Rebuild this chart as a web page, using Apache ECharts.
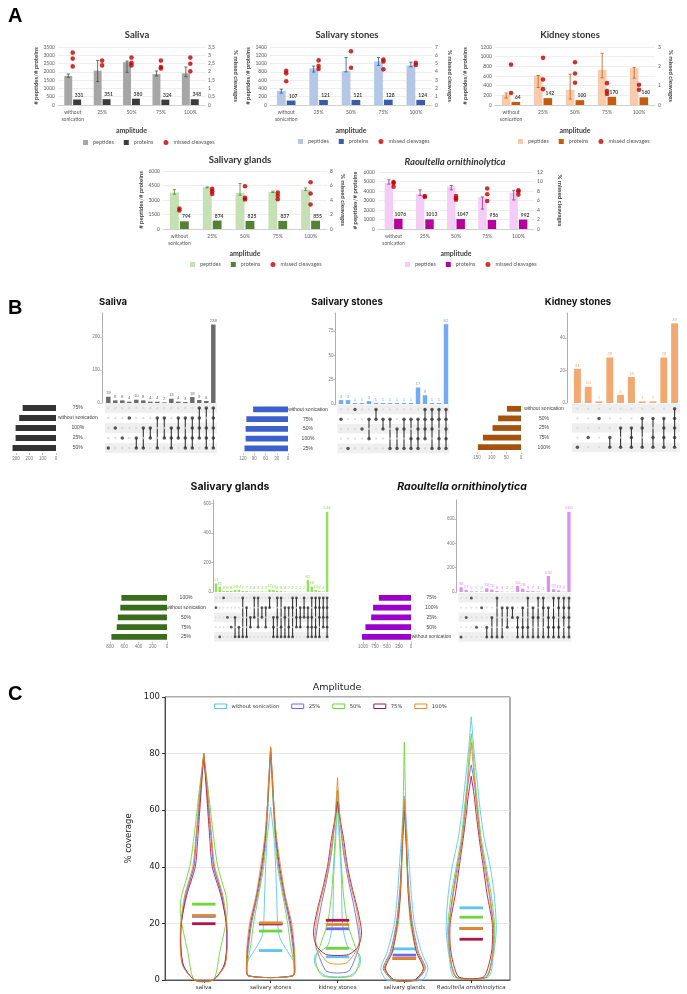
<!DOCTYPE html>
<html>
<head>
<meta charset="utf-8">
<title>Sonication amplitude</title>
<script src="https://cdn.jsdelivr.net/npm/echarts@6.0.0/dist/echarts.min.js"></script>
<style>
  html, body { margin: 0; padding: 0; background: #fff; }
  #main { width: 687px; height: 994px; }
</style>
</head>
<body>
<div id="main"></div>
<script>
// ---------- A: peptides / proteins / missed cleavages ----------
const amplitudes = ['without\nsonication', '25%', '50%', '75%', '100%'];

const salivaPeptides = [1750, 2070, 2585, 1870, 1910];
const salivaPeptideErr = [[1670, 1870], [1410, 2690], [1970, 2650], [1750, 2050], [1710, 2290]];
const salivaProteins = [331, 351, 380, 324, 348];
const salivaMissed = [[3.16, 2.8, 2.33], [2.68, 2.39], [2.86, 2.54, 2.39], [2.68, 2.29, 2.21], [2.86, 2.49, 2.03]];

const stonesPeptides = [342, 883, 819, 1050, 955];
const stonesPeptideErr = [[286, 382], [795, 939], [800, 1145], [955, 1145], [923, 1034]];
const stonesProteins = [107, 121, 121, 128, 124];
const stonesMissed = [[4.14, 3.82, 2.87], [5.38, 4.7, 4.34], [6.49, 4.5], [5.5, 5.26, 4.3], [5.1, 4.82]];

const kidneyPeptides = [213, 610, 315, 727, 761];
const kidneyPeptideErr = [[144, 247], [363, 610], [123, 638], [562, 1070], [555, 775]];
const kidneyProteins = [64, 142, 100, 170, 160];
const kidneyMissed = [[2.09, 0.62], [2.44, 1.32, 0.82], [2.21, 1.63, 1.15], [1.13, 0.72, 0.57], [1.05, 0.79]];

const glandsPeptides = [3771, 4320, 3737, 3840, 4080];
const glandsPeptideErr = [[3600, 4080], [4250, 4350], [3500, 4700], [3770, 3910], [3980, 4250]];
const glandsProteins = [794, 874, 825, 837, 855];
const glandsMissed = [[2.83, 2.56], [5.53, 5.21, 4.84], [5.89, 4.29, 4.06], [5.02, 4.57, 4.11], [6.44, 4.89, 3.38]];

const raoultellaPeptides = [4864, 3692, 4473, 3337, 3834];
const raoultellaPeptideErr = [[4722, 5183], [3515, 4118], [4118, 4580], [2095, 3373], [3053, 4047]];
const raoultellaProteins = [1076, 1013, 1047, 956, 992];
const raoultellaMissed = [[9.87, 9.66, 8.88], [6.96, 6.75], [6.96, 6.46, 6.18], [8.52, 7.32, 5.9], [8.17, 7.88, 7.24]];

// ---------- B: UpSet plots ----------
const salivaSets = ['75%', 'without sonication', '100%', '25%', '50%'];
const salivaSetSizes = [250, 276, 303, 303, 326];
const salivaCounts = [19, 8, 8, 4, 10, 8, 4, 4, 2, 13, 4, 3, 18, 9, 6, 238];
const salivaMembers = [[4], [2], [3], [1], [3, 4], [2, 4], [2, 3], [1, 4], [1, 3], [2, 3, 4], [1, 2, 3], [1, 3, 4], [1, 2, 3, 4], [0, 1, 2, 3], [0, 2, 3, 4], [0, 1, 2, 3, 4]];

const stonesSets = ['without sonication', '75%', '50%', '100%', '25%'];
const stonesSetSizes = [93, 111, 113, 113, 116];
const stonesCounts = [4, 4, 1, 1, 3, 1, 1, 1, 1, 1, 1, 17, 9, 1, 1, 82];
const stonesMembers = [[1], [4], [0], [2], [1, 3], [0, 1], [1, 2], [1, 4], [2, 4], [1, 2, 4], [1, 3, 4], [1, 2, 3, 4], [0, 1, 2, 3], [0, 1, 2, 4], [0, 1, 3, 4], [0, 1, 2, 3, 4]];

const kidneySets = ['without sonication', '50%', '25%', '75%', '100%'];
const kidneySetSizes = [48, 78, 97, 130, 147];
const kidneyCounts = [21, 10, 1, 28, 5, 16, 1, 1, 28, 49];
const kidneyMembers = [[4], [3], [1], [3, 4], [2, 4], [2, 3, 4], [1, 2, 4], [1, 3, 4], [1, 2, 3, 4], [0, 1, 2, 3, 4]];

const glandsSets = ['100%', 'without sonication', '50%', '75%', '25%'];
const glandsSetSizes = [640, 655, 690, 705, 780];
const glandsCounts = [57, 35, 8, 8, 8, 14, 14, 7, 7, 4, 4, 4, 4, 3, 17, 14, 8, 8, 4, 2, 2, 2, 2, 2, 82, 36, 14, 8, 4, 544];
const glandsMembers = [[1], [4], [0], [2], [3],
  [2, 4], [3, 4], [0, 4], [1, 4], [2, 3], [0, 2], [0, 3], [1, 2], [1, 3], [0, 1],
  [2, 3, 4], [0, 2, 4], [0, 3, 4], [1, 2, 4], [1, 3, 4], [0, 1, 4], [0, 2, 3], [1, 2, 3], [0, 1, 2],
  [1, 2, 3, 4], [0, 2, 3, 4], [0, 1, 3, 4], [0, 1, 2, 4], [0, 1, 2, 3], [0, 1, 2, 3, 4]];

const raoultellaSets = ['75%', '100%', '25%', '50%', 'without sonication'];
const raoultellaSetSizes = [670, 790, 830, 950, 1020];
const raoultellaCounts = [38, 17, 5, 5, 4, 30, 20, 8, 3, 2, 2, 50, 28, 9, 7, 4, 1, 132, 23, 13, 3, 660];
const raoultellaMembers = [[4], [2], [0], [3], [1],
  [3, 4], [2, 4], [0, 4], [1, 4], [1, 3], [1, 2],
  [2, 3, 4], [1, 3, 4], [0, 3, 4], [1, 2, 4], [0, 2, 4], [0, 1, 4],
  [1, 2, 3, 4], [0, 2, 3, 4], [0, 1, 3, 4], [0, 1, 2, 4], [0, 1, 2, 3, 4]];

// ---------- C: % coverage violins ----------
const violinCategories = ['saliva', 'salivary stones', 'kidney stones', 'salivary glands', 'Raoultella ornithinolytica'];
const violinGroups = ['without sonication', '25%', '50%', '75%', '100%'];
const medianWithout = [22.7, 10.4, 8.2, 11, 25.5];
const median25 = [22.5, 19.8, 18.1, 8.8, 18.2];
const median50 = [26.8, 17.3, 11.2, 7.6, 22.2];
const median75 = [19.9, 19.9, 21.1, 7.6, 14.4];
const median100 = [22.8, 20.2, 19.6, 7.6, 18.2];

// [coverage, half width] outline points, bottom to tip
const profileWithout = [
  [[0, 9], [5, 20.5], [12, 23], [20, 22.5], [30, 18], [40, 10], [50, 7.5], [60, 5], [70, 2.5], [79, 0]],
  [[1.5, 22], [6, 23.5], [10, 17], [15, 9], [20, 7], [30, 6], [40, 5], [50, 3.5], [58, 1], [61, 0]],
  [[1.5, 12], [5, 22], [9, 22], [12, 10], [20, 5], [35, 4], [45, 2.5], [55, 1], [62, 0]],
  [[0, 17.5], [4, 23.5], [10, 17], [20, 10], [30, 7], [40, 5], [50, 3], [58, 1.5], [65, 0]],
  [[1, 17], [8, 22], [18, 25], [30, 23], [40, 19], [50, 13], [60, 9], [70, 6], [80, 3], [93, 0]]
];
const profile25 = [
  [[0, 9], [5, 20.5], [12, 23], [20, 22.5], [30, 18], [40, 10], [50, 7.5], [60, 5], [70, 2.5], [79, 0]],
  [[1.5, 22], [6, 23.5], [12, 22], [20, 19], [30, 13], [40, 8], [50, 5], [60, 3], [70, 1.5], [80, 0]],
  [[3, 10.5], [8, 18], [13, 22], [25, 17], [35, 11], [45, 6], [55, 3], [67, 0]],
  [[0, 11], [4, 21], [10, 14], [20, 8], [30, 5], [40, 3], [50, 2], [63, 0]],
  [[1, 15], [8, 21], [18, 22.5], [30, 18.5], [40, 14], [50, 9], [60, 6], [70, 3], [76, 0]]
];
const profile50 = [
  [[0, 9.5], [10, 16], [20, 22], [25, 23.5], [30, 22], [40, 14], [50, 10], [60, 6.7], [70, 3.5], [80, 0]],
  [[1.5, 22], [6, 23], [12, 20], [20, 17], [30, 12], [40, 7], [50, 4.5], [60, 3], [70, 1.5], [82, 0]],
  [[1.5, 15], [7, 22], [12, 17.5], [20, 10], [30, 6], [40, 4], [50, 2.5], [60, 1], [66, 0]],
  [[0, 10], [4, 19], [10, 12], [20, 6], [30, 4], [40, 2.5], [55, 1.5], [70, 0.8], [84, 0]],
  [[1, 14], [8, 21], [18, 23.5], [30, 20], [40, 15], [50, 10], [60, 7], [70, 4], [80, 2], [87, 0]]
];
const profile75 = [
  [[0, 9], [5, 20], [12, 23], [20, 22.5], [30, 17], [40, 8.5], [50, 6], [60, 4], [70, 2], [80, 0]],
  [[1.5, 22.5], [6, 24], [12, 23], [20, 20], [30, 14], [40, 9], [50, 5.5], [60, 3.5], [70, 2], [82, 0]],
  [[9, 11], [12, 21], [17, 24], [25, 20], [32, 15], [40, 10], [50, 6], [58, 2], [63, 0]],
  [[0, 10], [4, 19], [10, 12], [20, 7], [30, 4], [40, 3], [50, 1.5], [60, 0]],
  [[1, 12], [6, 18], [12, 21], [20, 21], [30, 16], [40, 12], [50, 8], [60, 4.5], [65, 3], [72, 0]]
];
const profile100 = [
  [[0, 9], [5, 21], [12, 23.5], [20, 23], [30, 19], [40, 11], [50, 8], [60, 5.5], [70, 3], [80, 0]],
  [[1.5, 22.5], [6, 24], [12, 23.5], [20, 21], [30, 14.5], [40, 10], [50, 6], [60, 3.5], [70, 2], [82.5, 0]],
  [[6, 8.5], [10, 18], [15, 22.5], [25, 19], [35, 12], [45, 7], [55, 3], [65, 1], [71.5, 0]],
  [[0, 11], [4, 20], [10, 13], [20, 7.5], [30, 4.5], [40, 3], [50, 2], [64, 0]],
  [[1, 15], [8, 21], [18, 22], [30, 18], [40, 13], [50, 9], [60, 6], [70, 3.5], [84, 0]]
];

// ---------- chart ----------
const FA = 'Lato, "Open Sans", sans-serif';
const FB = '"Liberation Sans", Arial, sans-serif';
const FT = 'Inter, "Liberation Sans", sans-serif';
const FC = '"DejaVu Sans", sans-serif';
const plain = v => String(v);

const option = {
    animation: false,
    backgroundColor: '#fff',
    grid: [], xAxis: [], yAxis: [], series: [], legend: [], graphic: []
};

function addText(text, x, y, size, extra) {
    option.graphic.push({
        type: 'text', x: x, y: y, silent: true,
        style: Object.assign({
            text: text, fontSize: size, fontFamily: FA, fill: '#000',
            textAlign: 'center', textVerticalAlign: 'middle'
        }, extra || {})
    });
}
function addGrid(g) { option.grid.push(g); return option.grid.length - 1; }
function addX(a) { option.xAxis.push(a); return option.xAxis.length - 1; }
function addY(a) { option.yAxis.push(a); return option.yAxis.length - 1; }

// panel letters
addText('A', 8, 6, 20, { fontWeight: 'bold', fontFamily: FB, textAlign: 'left', textVerticalAlign: 'top' });
addText('B', 8, 298, 20, { fontWeight: 'bold', fontFamily: FB, textAlign: 'left', textVerticalAlign: 'top' });
addText('C', 8, 684, 20, { fontWeight: 'bold', fontFamily: FB, textAlign: 'left', textVerticalAlign: 'top' });

// ---- A: bar + error + scatter chart
function barPanel(c) {
    const bw = c.width / 5 * 0.27;
    const g = addGrid({ left: c.left, top: c.top, width: c.width, height: c.height });
    const xi = addX({
        type: 'category', gridIndex: g, data: amplitudes,
        name: 'amplitude', nameLocation: 'middle', nameGap: c.xGap,
        nameTextStyle: { fontSize: 7, fontWeight: 'bold', color: '#404040', fontFamily: FA },
        axisLine: { lineStyle: { color: '#c8c8c8', width: 0.8 } },
        axisTick: { show: false },
        axisLabel: { fontSize: 5, color: '#595959', lineHeight: 7, margin: 4, interval: 0, fontFamily: FA }
    });
    const yl = addY({
        type: 'value', gridIndex: g, min: 0, max: c.leftMax, interval: c.leftStep,
        name: '# peptides/# proteins', nameLocation: 'middle', nameGap: c.leftGap,
        nameTextStyle: { fontSize: 6, fontWeight: 'bold', color: '#404040', fontFamily: FA },
        axisLine: { show: false }, axisTick: { show: false },
        axisLabel: { fontSize: 5, color: '#595959', margin: 3, fontFamily: FA, formatter: plain },
        splitLine: { lineStyle: { color: '#e2e2e2', width: 0.6 } }
    });
    const yr = addY({
        type: 'value', gridIndex: g, position: 'right', min: 0, max: c.rightMax, interval: c.rightStep,
        name: '% missed cleavages', nameLocation: 'middle', nameGap: c.rightGap, nameRotate: -90,
        nameTextStyle: { fontSize: 6, fontWeight: 'bold', color: '#404040', fontFamily: FA },
        axisLine: { show: false }, axisTick: { show: false },
        axisLabel: {
            fontSize: 5, color: '#595959', margin: 3, fontFamily: FA,
            formatter: v => String(v).replace('.', ',')
        },
        splitLine: { show: false }
    });
    const pepName = 'peptides#' + c.key, protName = 'proteins#' + c.key, mcName = 'missed cleavages#' + c.key;
    option.series.push({
        name: pepName, type: 'bar', xAxisIndex: xi, yAxisIndex: yl,
        data: c.peptides, barWidth: bw, barGap: '12%', itemStyle: { color: c.colors[0] }
    });
    option.series.push({
        name: protName, type: 'bar', xAxisIndex: xi, yAxisIndex: yl,
        data: c.proteins, barWidth: bw, barGap: '12%', itemStyle: { color: c.colors[1] },
        label: { show: true, position: 'top', fontSize: 5, color: '#404040', distance: 2, fontFamily: FA, fontWeight: 'bold', offset: [2, 0] }
    });
    const off = -(bw * 1.12) / 2;
    option.series.push({
        type: 'custom', xAxisIndex: xi, yAxisIndex: yl, silent: true, z: 5,
        data: c.err.map((e, i) => [i, e[0], e[1]]),
        encode: { x: 0, y: [1, 2] },
        renderItem: (params, api) => {
            const lo = api.coord([api.value(0), api.value(1)]);
            const hi = api.coord([api.value(0), api.value(2)]);
            const x = lo[0] + off;
            const st = { stroke: c.colors[2], lineWidth: 0.8 };
            return {
                type: 'group', children: [
                    { type: 'line', shape: { x1: x, y1: lo[1], x2: x, y2: hi[1] }, style: st },
                    { type: 'line', shape: { x1: x - 1.6, y1: lo[1], x2: x + 1.6, y2: lo[1] }, style: st },
                    { type: 'line', shape: { x1: x - 1.6, y1: hi[1], x2: x + 1.6, y2: hi[1] }, style: st }
                ]
            };
        }
    });
    const pts = [];
    c.missed.forEach((arr, i) => arr.forEach(v => pts.push([i, v])));
    option.series.push({
        name: mcName, type: 'scatter', xAxisIndex: xi, yAxisIndex: yr, z: 6,
        data: pts, symbolSize: 4.6, itemStyle: { color: '#c00000' }
    });
    option.legend.push({
        left: c.legendLeft, top: c.legendTop, padding: 0, itemWidth: 5, itemHeight: 5, itemGap: 10,
        selectedMode: false,
        textStyle: { fontSize: 5.5, color: '#595959', fontFamily: FA },
        formatter: n => n.split('#')[0],
        data: [{ name: pepName, icon: 'rect' }, { name: protName, icon: 'rect' }, { name: mcName, icon: 'circle' }]
    });
    addText(c.title, c.titleX, c.titleY, 9.5, { fontWeight: 'bold', fill: '#333', fontStyle: c.italic ? 'italic' : 'normal' });
}

barPanel({
    key: 'sal', title: 'Saliva', titleX: 137, titleY: 35,
    left: 58, top: 47, width: 147, height: 58, xGap: 22,
    leftMax: 3500, leftStep: 500, rightMax: 3.5, rightStep: 0.5, leftGap: 18, rightGap: 28,
    peptides: salivaPeptides, err: salivaPeptideErr, proteins: salivaProteins, missed: salivaMissed,
    colors: ['#a6a6a6', '#3b3b3b', '#4d4d4d'], legendLeft: 83, legendTop: 139.5
});
barPanel({
    key: 'sst', title: 'Salivary stones', titleX: 347, titleY: 35,
    left: 270, top: 47, width: 162, height: 58, xGap: 22,
    leftMax: 1400, leftStep: 200, rightMax: 7, rightStep: 1, leftGap: 15, rightGap: 15,
    peptides: stonesPeptides, err: stonesPeptideErr, proteins: stonesProteins, missed: stonesMissed,
    colors: ['#b4c7e7', '#3a5ba6', '#2f5597'], legendLeft: 298, legendTop: 138.5
});
barPanel({
    key: 'kst', title: 'Kidney stones', titleX: 570, titleY: 35,
    left: 495, top: 47, width: 160, height: 58, xGap: 22,
    leftMax: 1200, leftStep: 200, rightMax: 3, rightStep: 1, leftGap: 27, rightGap: 13,
    peptides: kidneyPeptides, err: kidneyPeptideErr, proteins: kidneyProteins, missed: kidneyMissed,
    colors: ['#f8cbad', '#c55a11', '#c55a11'], legendLeft: 518, legendTop: 138.5
});
barPanel({
    key: 'sgl', title: 'Salivary glands', titleX: 240, titleY: 160,
    left: 163, top: 171, width: 164, height: 58, xGap: 21,
    leftMax: 6000, leftStep: 1500, rightMax: 8, rightStep: 2, leftGap: 16, rightGap: 13,
    peptides: glandsPeptides, err: glandsPeptideErr, proteins: glandsProteins, missed: glandsMissed,
    colors: ['#c5e0b4', '#548235', '#548235'], legendLeft: 190, legendTop: 261.5
});
barPanel({
    key: 'rao', title: 'Raoultella ornithinolytica', titleX: 455, titleY: 162, italic: true,
    left: 378, top: 172, width: 156, height: 57, xGap: 21,
    leftMax: 6000, leftStep: 1000, rightMax: 12, rightStep: 2, leftGap: 20, rightGap: 23,
    peptides: raoultellaPeptides, err: raoultellaPeptideErr, proteins: raoultellaProteins, missed: raoultellaMissed,
    colors: ['#f4cdf6', '#b5009b', '#a0308a'], legendLeft: 405, legendTop: 261.5
});

// ---- B: UpSet plots
function upsetPanel(u) {
    const cols = u.counts.map((_, i) => String(i));
    const gB = addGrid({ left: u.colLeft, top: u.barTop, width: u.colWidth, height: u.barBottom - u.barTop });
    const xB = addX({ type: 'category', gridIndex: gB, data: cols, show: false });
    const yB = addY({
        type: 'value', gridIndex: gB, min: 0, max: u.barMax, offset: u.axisOffset,
        axisLine: { show: true, lineStyle: { color: '#999', width: 0.8 } },
        axisTick: { show: true, length: 2, lineStyle: { color: '#999', width: 0.6 }, customValues: u.barTicks },
        axisLabel: { fontSize: 4.5, color: '#777', margin: 2, fontFamily: FB, customValues: u.barTicks, formatter: plain },
        splitLine: { show: false }
    });
    option.series.push({
        name: 'counts-' + u.key, type: 'bar', xAxisIndex: xB, yAxisIndex: yB,
        data: u.counts, barWidth: '64%', itemStyle: { color: u.barColor },
        label: { show: true, position: 'top', fontSize: 4.3, color: u.barColor, distance: 1.5, fontFamily: FB }
    });

    const gM = addGrid({ left: u.colLeft, top: u.rowTop, width: u.colWidth, height: u.rowH * 5 });
    const xM = addX({ type: 'category', gridIndex: gM, data: cols, show: false });
    const yM = addY({
        type: 'category', gridIndex: gM, data: u.sets, inverse: true,
        axisLine: { show: false }, axisTick: { show: false },
        axisLabel: { fontSize: 5, color: '#444', align: 'center', margin: u.labelMargin, fontFamily: FB },
        splitArea: { show: true, areaStyle: { color: ['#efefef', '#ffffff'] } },
        splitLine: { show: false }
    });
    const bg = [], on = [], links = [];
    u.members.forEach((m, i) => {
        for (let r = 0; r < u.sets.length; r++) if (m.indexOf(r) < 0) bg.push([i, r]);
        m.forEach(r => on.push([i, r]));
        if (m.length > 1) links.push([i, Math.min(...m), Math.max(...m)]);
    });
    option.series.push({
        name: 'cells-' + u.key, type: 'scatter', xAxisIndex: xM, yAxisIndex: yM, silent: true,
        data: bg, symbolSize: u.dot * 0.65, itemStyle: { color: '#d4d4d4' }
    });
    option.series.push({
        name: 'links-' + u.key, type: 'custom', xAxisIndex: xM, yAxisIndex: yM, silent: true,
        data: links, encode: { x: 0, y: [1, 2] },
        renderItem: (params, api) => {
            const a = api.coord([api.value(0), api.value(1)]);
            const b = api.coord([api.value(0), api.value(2)]);
            return { type: 'line', shape: { x1: a[0], y1: a[1], x2: b[0], y2: b[1] }, style: { stroke: '#333', lineWidth: 1.1 } };
        }
    });
    option.series.push({
        name: 'members-' + u.key, type: 'scatter', xAxisIndex: xM, yAxisIndex: yM, silent: true, z: 4,
        data: on, symbolSize: u.dot, itemStyle: { color: '#333' }
    });

    const gS = addGrid({ left: u.setLeft, top: u.rowTop, width: u.setRight - u.setLeft, height: u.rowH * 5 });
    const xS = addX({
        type: 'value', gridIndex: gS, inverse: true, min: 0, max: u.setMax,
        axisLine: { show: false },
        axisTick: { show: true, length: 2, lineStyle: { color: '#999', width: 0.6 }, customValues: u.setTicks },
        axisLabel: { fontSize: 4.5, color: '#777', margin: 3, fontFamily: FB, customValues: u.setTicks, formatter: plain },
        splitLine: { show: false }
    });
    const yS = addY({ type: 'category', gridIndex: gS, data: u.sets, inverse: true, show: false });
    option.series.push({
        name: 'sizes-' + u.key, type: 'bar', xAxisIndex: xS, yAxisIndex: yS,
        data: u.sizes, barWidth: u.rowH * 0.6, itemStyle: { color: u.setColor }
    });
    addText(u.title, u.titleX, u.titleY, u.titleSize, {
        fontWeight: 'bold', fontFamily: FT, fill: '#111', fontStyle: u.italic ? 'italic' : 'normal'
    });
}

upsetPanel({
    key: 'sal', title: 'Saliva', titleX: 113, titleY: 302, titleSize: 9.5,
    sets: salivaSets, sizes: salivaSetSizes, counts: salivaCounts, members: salivaMembers,
    barColor: '#6b6b6b', setColor: '#333333',
    colLeft: 104.8, colWidth: 112, barTop: 313, barBottom: 403, barMax: 273, barTicks: [0, 100, 200], axisOffset: 3,
    rowTop: 403, rowH: 10, dot: 3.6, labelMargin: 27,
    setLeft: 8, setRight: 56, setMax: 360, setTicks: [0, 100, 200, 300]
});
upsetPanel({
    key: 'sst', title: 'Salivary stones', titleX: 347, titleY: 302, titleSize: 9.5,
    sets: stonesSets, sizes: stonesSetSizes, counts: stonesCounts, members: stonesMembers,
    barColor: '#74aaf2', setColor: '#3c60cc',
    colLeft: 337.5, colWidth: 112, barTop: 313, barBottom: 404, barMax: 93.5, barTicks: [0, 25, 50, 75], axisOffset: 2,
    rowTop: 404.5, rowH: 9.75, dot: 3.5, labelMargin: 29.5,
    setLeft: 237, setRight: 288, setMax: 136, setTicks: [0, 30, 60, 90, 120]
});
upsetPanel({
    key: 'kst', title: 'Kidney stones', titleX: 578, titleY: 302, titleSize: 9.5,
    sets: kidneySets, sizes: kidneySetSizes, counts: kidneyCounts, members: kidneyMembers,
    barColor: '#f2a870', setColor: '#a5520f',
    colLeft: 572, colWidth: 108, barTop: 313, barBottom: 403, barMax: 55.4, barTicks: [0, 20, 40], axisOffset: 5,
    rowTop: 404, rowH: 9.6, dot: 3.5, labelMargin: 28,
    setLeft: 470, setRight: 521, setMax: 174, setTicks: [0, 50, 100, 150]
});
upsetPanel({
    key: 'sgl', title: 'Salivary glands', titleX: 230, titleY: 487, titleSize: 10.5,
    sets: glandsSets, sizes: glandsSetSizes, counts: glandsCounts, members: glandsMembers,
    barColor: '#94e060', setColor: '#3b6b1c',
    colLeft: 214, colWidth: 115, barTop: 500, barBottom: 592, barMax: 624, barTicks: [0, 200, 400, 600], axisOffset: 1,
    rowTop: 593, rowH: 9.75, dot: 2.8, labelMargin: 28,
    setLeft: 105, setRight: 167, setMax: 870, setTicks: [0, 200, 400, 600, 800]
});
upsetPanel({
    key: 'rao', title: 'Raoultella ornithinolytica', titleX: 462, titleY: 487, titleSize: 10.5, italic: true,
    sets: raoultellaSets, sizes: raoultellaSetSizes, counts: raoultellaCounts, members: raoultellaMembers,
    barColor: '#dc90f2', setColor: '#9900cc',
    colLeft: 458.5, colWidth: 113, barTop: 500, barBottom: 592, barMax: 757, barTicks: [0, 200, 400, 600], axisOffset: 2,
    rowTop: 593, rowH: 9.75, dot: 3, labelMargin: 27,
    setLeft: 355, setRight: 411, setMax: 1167, setTicks: [0, 250, 500, 750, 1000]
});

// ---- C: violins
const violinColors = ['#5fc4f2', '#6a6af0', '#6cd63c', '#ad1748', '#e48a2a'];
const violinMedians = [medianWithout, median25, median50, median75, median100];
const violinProfiles = [profileWithout, profile25, profile50, profile75, profile100];
const REF_UNIT = 66.75;  // widths above were read against 66.75 px per category

const gC = addGrid({ left: 165, top: 697, width: 345, height: 283, show: true, borderColor: '#333', borderWidth: 0.8 });
const catIdx = violinCategories.map((_, i) => i);
const xC = addX({
    type: 'value', gridIndex: gC, min: -0.58, max: 4.58,
    axisLine: { onZero: false, lineStyle: { color: '#333', width: 0.8 } },
    axisTick: { show: true, length: 3, lineStyle: { color: '#333' }, customValues: catIdx },
    axisLabel: {
        fontSize: 5.5, color: '#333', margin: 5, fontFamily: FC, customValues: catIdx,
        formatter: v => {
            const name = violinCategories[Math.round(v)];
            return name.indexOf('Raoultella') === 0 ? '{i|' + name + '}' : name;
        },
        rich: { i: { fontStyle: 'italic', fontSize: 5.5, fontFamily: FC, color: '#333' } }
    },
    splitLine: { show: false }
});
const yC = addY({
    type: 'value', gridIndex: gC, min: 0, max: 100, interval: 20,
    name: '% coverage', nameLocation: 'middle', nameGap: 20,
    nameTextStyle: { fontSize: 8.5, color: '#222', fontFamily: FC },
    axisLine: { show: true, onZero: false, lineStyle: { color: '#333', width: 0.8 } },
    axisTick: { show: true, length: 3, lineStyle: { color: '#333' } },
    axisLabel: { fontSize: 8.5, color: '#222', margin: 5, fontFamily: FC },
    splitLine: { lineStyle: { color: '#e0e0e0', width: 0.8 } }
});
violinGroups.forEach((grp, s) => {
    const prof = violinProfiles[s], col = violinColors[s];
    option.series.push({
        name: grp, type: 'custom', xAxisIndex: xC, yAxisIndex: yC, silent: true, z: 3 + s,
        data: violinMedians[s].map((m, i) => [i, m]),
        encode: { x: 0, y: 1 },
        renderItem: (params, api) => {
            const ci = api.value(0);
            const unit = api.size([1, 0])[0];
            const cx = api.coord([ci, 0])[0];
            const k = unit / REF_UNIT;
            const p = prof[ci];
            const right = p.map(q => [cx + q[1] * k, api.coord([ci, q[0]])[1]]);
            const left = p.slice().reverse().map(q => [cx - q[1] * k, api.coord([ci, q[0]])[1]]);
            const my = api.coord([ci, api.value(1)])[1];
            return {
                type: 'group', children: [
                    { type: 'polygon', shape: { points: right.concat(left), smooth: 0.25 }, style: { fill: 'none', stroke: col, lineWidth: 0.9 } },
                    { type: 'line', shape: { x1: cx - unit * 0.175, y1: my, x2: cx + unit * 0.175, y2: my }, style: { stroke: col, lineWidth: 2.8 } }
                ]
            };
        }
    });
});
option.legend.push({
    left: 214, top: 703.5, padding: 0, itemWidth: 12, itemHeight: 4.5, itemGap: 12, selectedMode: false,
    textStyle: { fontSize: 5.2, color: '#333', fontFamily: FC },
    data: violinGroups.map((g, i) => ({
        name: g, icon: 'rect',
        itemStyle: { color: 'rgba(0,0,0,0)', borderColor: violinColors[i], borderWidth: 1 }
    }))
});
addText('Amplitude', 337, 688, 9.5, { fontFamily: FC, fill: '#222' });

const chart = echarts.init(document.getElementById('main'));
chart.setOption(option);
window.addEventListener('resize', () => chart.resize());
</script>
</body>
</html>
